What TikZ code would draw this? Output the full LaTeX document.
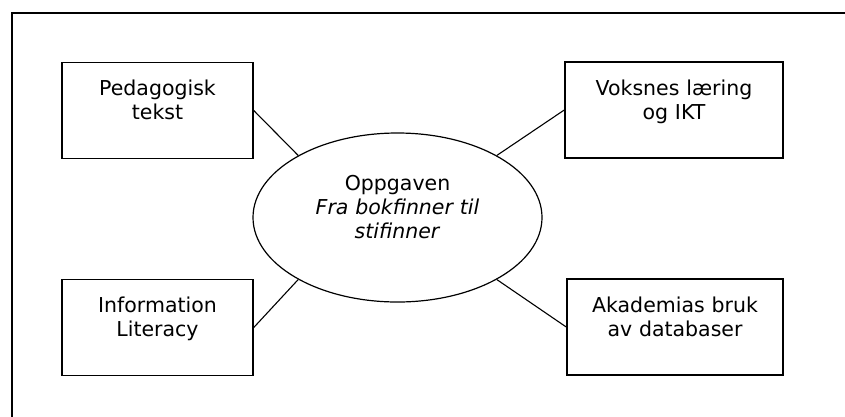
\documentclass[tikz,border=0pt]{standalone}
\usepackage{fontspec}
\setmainfont{DejaVu Sans}
\usetikzlibrary{shapes.geometric}
\tikzset{
  topic/.style={rectangle, draw=black, line width=1.5pt, inner sep=0pt, text width=#1, align=center, text height=33pt, text depth=63pt, font=\fontsize{20.5}{24}\selectfont},
  task/.style={ellipse, draw=black, line width=1.2pt, inner sep=0pt, minimum width=289pt, minimum height=169pt, text width=190pt, align=center, text height=15pt, text depth=70pt, font=\fontsize{20.5}{24}\selectfont},
  link/.style={line width=1.1pt},
}

\begin{document}
\begin{tikzpicture}[x=1pt,y=-1pt]
\clip (0,0) rectangle (845,416);
\draw[line width=1.5pt] (12,13) rectangle (850,421);
\node[task] (task) at (397.5,217.5) {Oppgaven\\\textit{Fra bokfinner til}\\\textit{stifinner}};
\node[topic=191pt] (ped) at (157.5,110.5) {Pedagogisk\\tekst};
\node[topic=218pt] (voks) at (674,110) {Voksnes læring\\og IKT};
\node[topic=191pt] (info) at (157.5,327.5) {Information\\Literacy};
\node[topic=216pt] (akad) at (675,327) {Akademias bruk\\av databaser};
\draw[link](ped.east)--(task.148);
\draw[link](voks.west)--(task.32);
\draw[link](info.east)--(task.212);
\draw[link](akad.west)--(task.328);
\end{tikzpicture}
\end{document}
